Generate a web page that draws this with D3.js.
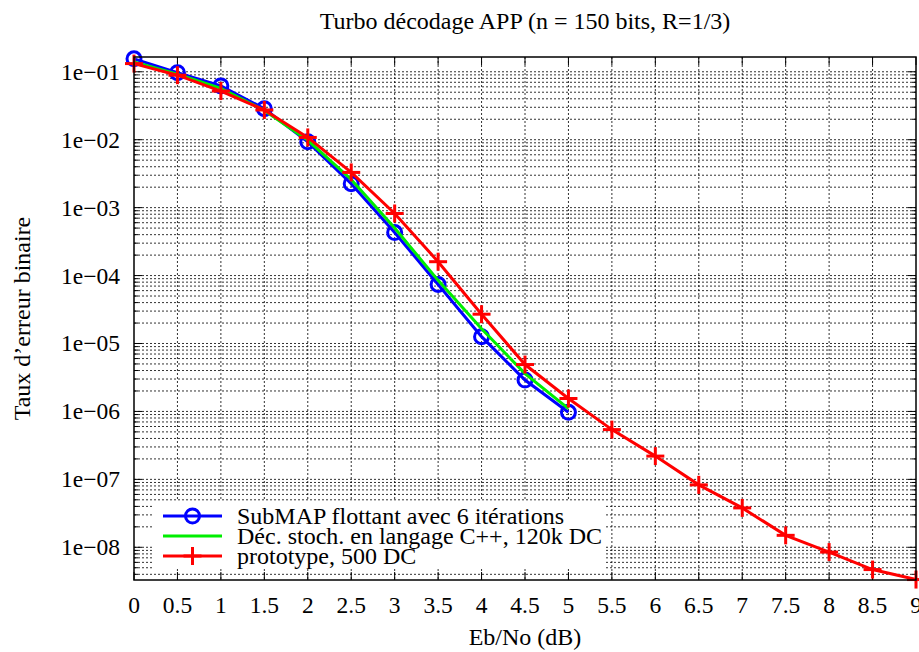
<!DOCTYPE html>
<html><head><meta charset="utf-8">
<script src="https://cdn.jsdelivr.net/npm/d3@7"></script>
<style>body{margin:0;background:#fff}svg{display:block}</style>
</head><body>
<script>
const title = "Turbo décodage APP (n = 150 bits, R=1/3)";
const xLabel = "Eb/No (dB)";
const yLabel = "Taux d’erreur binaire";
const xTicks = [0,0.5,1,1.5,2,2.5,3,3.5,4,4.5,5,5.5,6,6.5,7,7.5,8,8.5,9];
const yTicks = [1e-1,1e-2,1e-3,1e-4,1e-5,1e-6,1e-7,1e-8];
const yTickLabels = ["1e−01","1e−02","1e−03","1e−04","1e−05","1e−06","1e−07","1e−08"];
const seriesNames = ["SubMAP flottant avec 6 itérations","Déc. stoch. en langage C++, 120k DC","prototype, 500 DC"];
const xBlue = [0,0.5,1,1.5,2,2.5,3,3.5,4,4.5,5];
const yBlue = [0.155,0.097,0.062,0.0286,0.0093,0.00225,0.00043,7.4e-5,1.26e-5,2.9e-6,9.7e-7];
const xGreen = [0,0.5,1,1.5,2,2.5,3,3.5,4,4.5,5];
const yGreen = [0.14,0.092,0.057,0.027,0.0098,0.0026,0.0005,8.5e-5,1.65e-5,3.6e-6,1.1e-6];
const xRed = [0,0.5,1,1.5,2,2.5,3,3.5,4,4.5,5,5.5,6,6.5,7,7.5,8,8.5,9];
const yRed = [0.132,0.089,0.052,0.0274,0.0108,0.0033,8.2e-4,1.6e-4,2.7e-5,4.9e-6,1.55e-6,5.4e-7,2.2e-7,8.3e-8,3.8e-8,1.5e-8,8.5e-9,4.7e-9,3.35e-9];

const FONT = "'Liberation Serif', 'DejaVu Serif', serif";
const W=919,H=652, L=134, R=916, T=57, B=580;
const svg=d3.select("body").append("svg").attr("width",W).attr("height",H)
  .style("font-family",FONT);
const x=d3.scaleLinear().domain([0,9]).range([L,R]);
const y=d3.scaleLog().domain([3.3e-9,0.165]).range([B,T]);

// grid
const g=svg.append("g");
const minorY=[];
for(let e=-9;e<=-1;e++){for(let m=1;m<=9;m++){const v=m*Math.pow(10,e); if(v>=3.3e-9&&v<=0.165) minorY.push(v);}}
g.selectAll("line.gy").data(minorY).enter().append("line")
 .attr("x1",L).attr("x2",R).attr("y1",d=>y(d)).attr("y2",d=>y(d))
 .attr("stroke","#000").attr("stroke-width",1).attr("stroke-dasharray","2,2").attr("opacity",0.8);
g.selectAll("line.gx").data(xTicks.slice(1,-1)).enter().append("line")
 .attr("x1",d=>x(d)).attr("x2",d=>x(d)).attr("y1",T).attr("y2",B)
 .attr("stroke","#000").attr("stroke-width",1).attr("stroke-dasharray","2,2").attr("opacity",0.8);

// ticks
const tk=svg.append("g").attr("stroke","#000").attr("stroke-width",1);
xTicks.forEach(v=>{tk.append("line").attr("x1",x(v)).attr("x2",x(v)).attr("y1",B).attr("y2",B-8);
 tk.append("line").attr("x1",x(v)).attr("x2",x(v)).attr("y1",T).attr("y2",T+8);});
minorY.forEach(v=>{const maj=yTicks.includes(v); const len=maj?8:4;
 tk.append("line").attr("x1",L).attr("x2",L+len).attr("y1",y(v)).attr("y2",y(v));
 tk.append("line").attr("x1",R).attr("x2",R-len).attr("y1",y(v)).attr("y2",y(v));});

// legend background
svg.append("rect").attr("x",152).attr("y",501).attr("width",452).attr("height",68).attr("fill","#fff");

// data
const line=d3.line().x(d=>x(d[0])).y(d=>y(d[1]));
const blue=xBlue.map((v,i)=>[v,yBlue[i]]), green=xGreen.map((v,i)=>[v,yGreen[i]]), red=xRed.map((v,i)=>[v,yRed[i]]);
svg.append("path").datum(blue).attr("d",line).attr("fill","none").attr("stroke","#0000ff").attr("stroke-width",3);
svg.selectAll("circle.b").data(blue).enter().append("circle").attr("cx",d=>x(d[0])).attr("cy",d=>y(d[1])).attr("r",7)
 .attr("fill","none").attr("stroke","#0000ff").attr("stroke-width",3);
svg.append("path").datum(green).attr("d",line).attr("fill","none").attr("stroke","#00ee00").attr("stroke-width",3);
svg.append("path").datum(red).attr("d",line).attr("fill","none").attr("stroke","#ff0000").attr("stroke-width",3);
const plus=(sel,cx,cy,s)=>{sel.append("line").attr("x1",cx-s).attr("x2",cx+s).attr("y1",cy).attr("y2",cy);
 sel.append("line").attr("x1",cx).attr("x2",cx).attr("y1",cy-s).attr("y2",cy+s);};
const rp=svg.append("g").attr("stroke","#ff0000").attr("stroke-width",3);
red.forEach(d=>plus(rp,x(d[0]),y(d[1]),9));

// frame
svg.append("rect").attr("x",L).attr("y",T).attr("width",R-L).attr("height",B-T).attr("fill","none").attr("stroke","#000").attr("stroke-width",1.5);

function txt(sel,fs){return sel.attr("font-family",FONT).style("font-family",FONT).style("font-size",(fs||24)+"px").attr("fill","#000");}

// legend
const lg=svg.append("g");
const ly=[516,536,556], cols=["#0000ff","#00ee00","#ff0000"];
seriesNames.forEach((n,i)=>{
 lg.append("line").attr("x1",163).attr("x2",222).attr("y1",ly[i]).attr("y2",ly[i]).attr("stroke",cols[i]).attr("stroke-width",3);
 txt(lg.append("text").attr("x",237).attr("y",ly[i]+8)).text(n);
});
lg.append("circle").attr("cx",192.5).attr("cy",ly[0]).attr("r",7).attr("fill","none").attr("stroke","#0000ff").attr("stroke-width",3);
const lp=lg.append("g").attr("stroke","#ff0000").attr("stroke-width",3); plus(lp,192.5,ly[2],9);

// tick labels
txt(svg.selectAll("text.xt").data(xTicks).enter().append("text").attr("x",d=>x(d)).attr("y",613)
 .attr("text-anchor","middle"),23.5).text(d=>String(d));
txt(svg.selectAll("text.yt").data(yTicks).enter().append("text").attr("x",120).attr("y",d=>y(d)+8)
 .attr("text-anchor","end"),23.5).text((d,i)=>yTickLabels[i]);

// titles
txt(svg.append("text").attr("x",(L+R)/2).attr("y",29).attr("text-anchor","middle")).text(title);
txt(svg.append("text").attr("x",(L+R)/2).attr("y",645).attr("text-anchor","middle")).text(xLabel);
txt(svg.append("text").attr("transform",`translate(30,${(T+B)/2}) rotate(-90)`).attr("text-anchor","middle")).text(yLabel);
</script>
</body></html>
